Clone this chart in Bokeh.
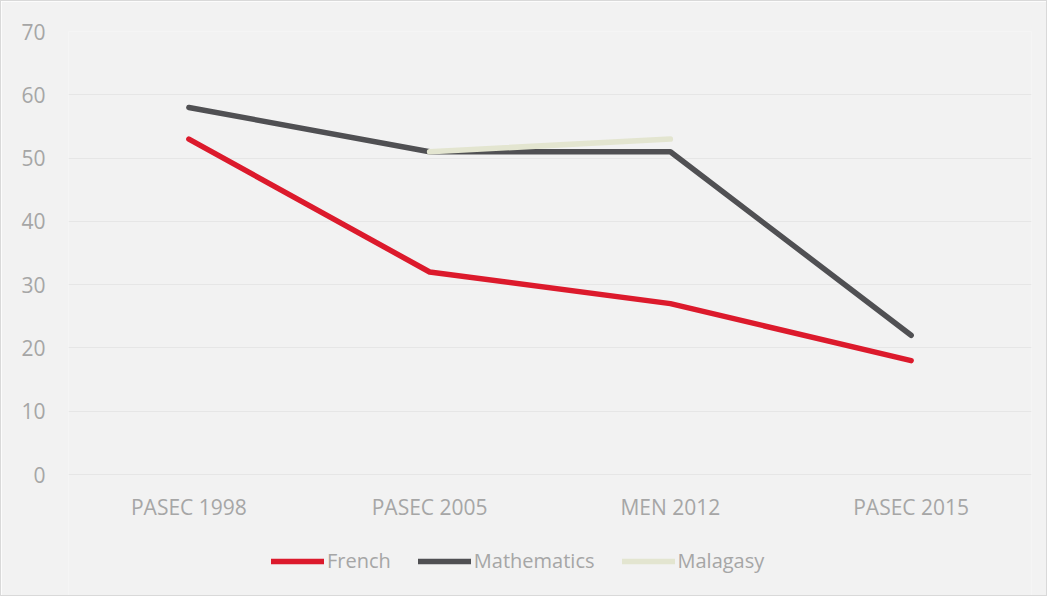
import numpy as np
from bokeh.plotting import figure
from bokeh.models import Range1d, FixedTicker, Legend, LegendItem, ColumnDataSource
from bokeh.core.properties import value
from bokeh.embed import file_html
from bokeh.resources import INLINE

categories = ["PASEC 1998", "PASEC 2005", "MEN 2012", "PASEC 2015"]
french = [53, 32, 27, 18]
mathematics = [58, 51, 51, 22]
malagasy = [np.nan, 51, 53, np.nan]
y_ticks = [0, 10, 20, 30, 40, 50, 60, 70]

BG = "#f2f2f2"
TXT = "#a6a6a6"
FONT = "Open Sans"

FRAME_H = 564
Y_MAX = 70
Y_MIN = Y_MAX - FRAME_H * Y_MAX / 443.0  # extra room below 0 for labels and legend

p = figure(x_range=categories, y_range=Range1d(Y_MIN, Y_MAX), frame_width=963, frame_height=FRAME_H,
           output_backend="svg", toolbar_location=None,
           min_border_left=67, min_border_right=15, min_border_top=30, min_border_bottom=0)
p.x_range.range_padding = 0
p.background_fill_color = BG
p.border_fill_color = BG
p.outline_line_color = None
p.styles = {"border": "1px solid #d9d9d9", "box-sizing": "border-box"}

p.xaxis.visible = False
p.yaxis.ticker = FixedTicker(ticks=y_ticks)
ax = p.yaxis[0]
ax.axis_line_color = None
ax.major_tick_line_color = None
ax.minor_tick_line_color = None
ax.major_label_text_color = TXT
ax.major_label_text_font = FONT
ax.major_label_text_font_size = "21px"
ax.major_label_standoff = 17
p.xgrid.grid_line_color = None
p.ygrid.grid_line_color = "#e6e6e6"
p.ygrid.grid_line_width = 1

src = ColumnDataSource(dict(x=categories, fr=french, ma=mathematics, mg=malagasy))

# category labels under the zero line
p.text(x="x", y=0, text="x", source=src, y_offset=32, text_align="center", text_baseline="middle",
       text_color=TXT, text_font=value(FONT), text_font_size="21px")

r1 = p.line("x", "fr", source=src, line_color="#dc1a2c", line_width=5.5, line_cap="round", line_join="round")
r2 = p.line("x", "ma", source=src, line_color="#505053", line_width=5.5, line_cap="round", line_join="round")
r3 = p.line("x", "mg", source=src, line_color="#e3e5d0", line_width=5.5, line_cap="round", line_join="round")

legend = Legend(items=[LegendItem(label="French", renderers=[r1]),
                       LegendItem(label="Mathematics", renderers=[r2]),
                       LegendItem(label="Malagasy", renderers=[r3])],
                orientation="horizontal", location=(203, 21),
                background_fill_alpha=0, border_line_color=None,
                label_text_color=TXT, label_text_font=FONT, label_text_font_size="20px",
                glyph_width=53, glyph_height=20, label_standoff=3, spacing=27, padding=0, margin=0)
p.add_layout(legend, "center")

open("out.html", "w").write(file_html(p, INLINE))
